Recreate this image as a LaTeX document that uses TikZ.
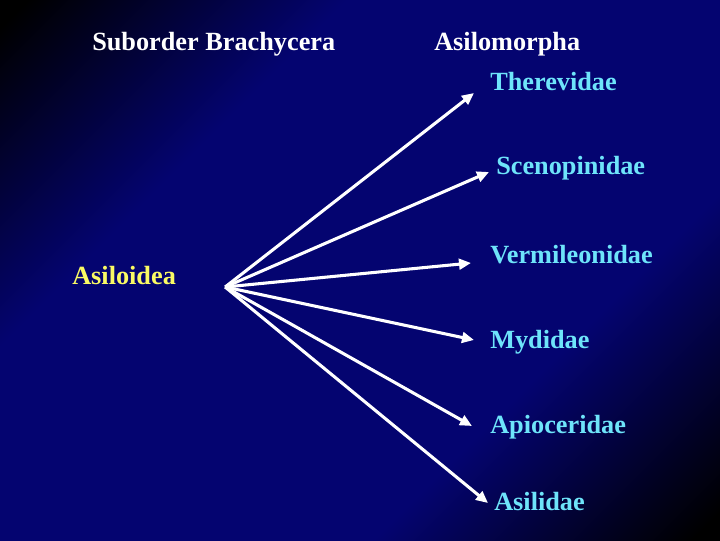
\documentclass[tikz,border=0pt]{standalone}
\usepackage{fontspec}
\setmainfont{Liberation Serif}
\usetikzlibrary{arrows.meta,positioning}
\definecolor{bgnavy}{RGB}{4,4,112}
\definecolor{famcyan}{RGB}{110,228,250}
\definecolor{supyellow}{RGB}{250,250,100}
\pgfdeclareverticalshading{slidebg}{100bp}{color(0bp)=(black); color(16bp)=(black); color(34bp)=(bgnavy); color(66bp)=(bgnavy); color(84bp)=(black); color(100bp)=(black)}

\begin{document}
\begin{tikzpicture}[x=0.75pt, y=0.75pt, >={Triangle[length=9pt,width=8pt]},
    every node/.style = {inner sep=0pt, anchor=base west,
                         font=\bfseries\fontsize{19.7}{24}\selectfont},
    head/.style = {text=white},
    family/.style = {text=famcyan},
    arr/.style = {->, white, line width=2.3pt},
                            ]
    \shade[shading=slidebg, shading angle=45] (0,0) rectangle (720,540);
    \useasboundingbox (0,0) rectangle (720,540);
    \node[head] (sub) at (92,489) {Suborder Brachycera};
    \node[head] (asm) at (434,489) {Asilomorpha};
    \node[text=supyellow] (asl) at (72,256) {Asiloidea};
    %
    \node[family] (ther) at (490,449) {Therevidae};
    \node[family] (scen) at (496,365) {Scenopinidae};
    \node[family] (verm) at (490,277) {Vermileonidae};
    \node[family] (myd)  at (490,192) {Mydidae};
    \node[family] (apio) at (490,107) {Apioceridae};
    \node[family] (asil) at (494,30)  {Asilidae};
    %
    \coordinate (hub) at ([shift={(49,-3)}]asl.base east);
    \foreach \n/\dx/\dy in {ther/-16/-2, scen/-7/3, verm/-19/0,
                            myd/-16/8, apio/-18/7, asil/-6/7}
    {
      \draw[arr] (hub) -- ([shift={(\dx,\dy)}]\n.base west);
    }
\end{tikzpicture}
\end{document}
